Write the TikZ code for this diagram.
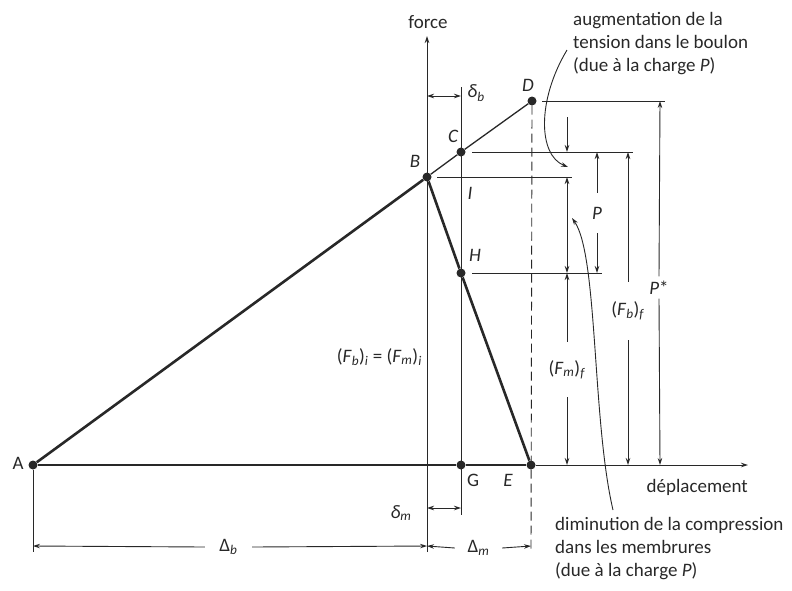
\documentclass[tikz,border=0pt]{standalone}
\usepackage{fontspec}
\setmainfont{Carlito}
\usetikzlibrary{arrows.meta}
\definecolor{ink}{RGB}{40,40,40}
\newcommand\myF[2]{(\textit{F}\textsubscript{\textit{#1}})\textsubscript{\textit{#2}}}
\begin{document}
\begin{tikzpicture}[x=1pt,y=-1pt,>={Stealth[length=7pt,width=4.5pt]},
  pt/.style={circle,fill=ink,inner sep=0pt,minimum size=9pt},
  heavy/.style={draw=ink,line width=2.6pt},
  medium/.style={draw=ink,line width=1.3pt},
  fine/.style={draw=ink,line width=0.9pt},
  lab/.style={font=\fontsize{19}{23}\selectfont\itshape,text=ink,inner sep=1pt},
  up/.style={font=\fontsize{19}{23}\selectfont,text=ink,inner sep=1pt},
  gapv/.style={font=\fontsize{19}{23}\selectfont,text=ink,inner sep=0pt,minimum height=#1},
  gaph/.style={font=\fontsize{19}{23}\selectfont,text=ink,inner sep=0pt,minimum width=#1},
  txt/.style={font=\fontsize{19}{23}\selectfont,text=ink,align=left,inner sep=0pt}]
\useasboundingbox (0,0) rectangle (792,590);

% points
\node[pt] (A) at (33,465) {};
\node[pt] (B) at (427,177) {};
\node[pt] (C) at (461,152) {};
\node[pt] (D) at (532,101) {};
\node[pt] (H) at (461,273) {};
\node[pt] (G) at (461,465) {};
\node[pt] (E) at (531,465) {};

% axes
\coordinate (Ytop) at (427,36);
\coordinate (Ybot) at (427,552);
\coordinate (Xend) at (748,465);
\draw[fine,->] (Ybot) -- (Ytop);
\draw[fine,->] (E) -- (Xend);

% auxiliary verticals
\coordinate (Gtop) at (461,87);
\coordinate (Gbot) at (461,515);
\draw[fine] (Gtop) -- (Gbot);
\coordinate (Ebot) at (531,552);
\draw[fine,dash pattern=on 9pt off 5pt] (D) -- (Ebot);
\coordinate (Abot) at (33,552);
\draw[fine] (A) -- (Abot);

% main lines
\draw[heavy] (A) -- (G) -- (E);
\draw[heavy] (A) -- (B);
\draw[heavy] (B) -- (H) -- (E);
\draw[medium] (B) -- (C) -- (D);

% extension lines
\coordinate (Dl) at (542,101); \coordinate (Dr) at (665,101);
\coordinate (Cl) at (472,152); \coordinate (Cr) at (633,152);
\coordinate (Bl) at (437,177); \coordinate (Br) at (572,177);
\coordinate (Hl) at (472,273); \coordinate (Hr) at (602,273);
\draw[fine] (Dl) -- (Dr);
\draw[fine] (Cl) -- (Cr);
\draw[fine] (Bl) -- (Br);
\draw[fine] (Hl) -- (Hr);

% point labels
\node[up]  (lA) at (18,463) {A};
\node[lab] (lB) at (415,161) {B};
\node[lab] (lC) at (453,136) {C};
\node[lab] (lD) at (528,85) {D};
\node[lab] (lI) at (470,193) {I};
\node[lab] (lH) at (475,255) {H};
\node[up]  (lG) at (473,480) {G};
\node[lab] (lE) at (508,480) {E};

% small horizontal dimensions
\coordinate (db1) at (427,96); \coordinate (db2) at (461,96);
\draw[fine,<->] (db1) -- (db2);
\node[up] (ldb) at (476,93) {\textit{δ}\textsubscript{\textit{b}}};
\coordinate (dm1) at (427,508); \coordinate (dm2) at (461,508);
\draw[fine,<->] (dm1) -- (dm2);
\node[up] (ldm) at (401,513) {\textit{δ}\textsubscript{\textit{m}}};

% bottom dimensions
\node[gaph=47pt] (LDb) at (228.5,547) {Δ\textsubscript{\textit{b}}};
\coordinate (Db1) at (33,546); \coordinate (Db2) at (427,546);
\draw[fine,->] (LDb.west) -- (Db1);
\draw[fine,->] (LDb.east) -- (Db2);
\node[gaph=47pt] (LDm) at (478.5,548) {Δ\textsubscript{\textit{m}}};
\coordinate (Dm1) at (427,546); \coordinate (Dm2) at (531,546);
\draw[fine,->] (LDm.west) -- (Dm1);
\draw[fine,->] (LDm.east) -- (Dm2);

% vertical dimensions
\coordinate (a1) at (567,117); \coordinate (a2) at (567,152);
\draw[fine,->] (a1) -- (a2);
\coordinate (b1) at (567,177); \coordinate (b2) at (567,273);
\draw[fine,<->] (b1) -- (b2);
\node[gapv=55pt] (Fmf) at (567,369.5) {\myF{m}{f}};
\coordinate (f1) at (567,273); \coordinate (f2) at (567,465);
\draw[fine,->] (Fmf.north) -- (f1);
\draw[fine,->] (Fmf.south) -- (f2);

\node[gapv=40pt] (Pl) at (597,213) {\textit{P}};
\coordinate (p1) at (597,152); \coordinate (p2) at (597,273);
\draw[fine,->] (Pl.north) -- (p1);
\draw[fine,->] (Pl.south) -- (p2);

\node[gapv=58pt] (Fbf) at (628,311) {\myF{b}{f}};
\coordinate (q1) at (628,152); \coordinate (q2) at (628,465);
\draw[fine,->] (Fbf.north) -- (q1);
\draw[fine,->] (Fbf.south) -- (q2);

\node[gapv=22pt] (Ps) at (659,287.5) {\textit{P}*};
\coordinate (r1) at (660,101); \coordinate (r2) at (660,465);
\draw[fine,->] (Ps.north) -- (r1);
\draw[fine,->] (Ps.south) -- (r2);

\node[up,anchor=east] (Fi) at (423,357) {\myF{b}{i} = \myF{m}{i}};

% texts
\node[up] (force) at (428,22) {force};
\node[txt,anchor=base east] (depl) at (748,492) {déplacement};
\node[txt,anchor=north west] (aug) at (573,12) {augmentation de la\\tension dans le boulon\\(due à la charge \textit{P})};
\node[txt,anchor=north west] (dim) at (555,517) {diminution de la compression\\dans les membrures\\(due à la charge \textit{P})};

% curved pointers
\coordinate (c1a) at (567,50); \coordinate (c1b) at (568,167);
\draw[fine,->] (c1a) .. controls (537,100) and (538,155) .. (c1b);
\coordinate (c2a) at (613,510); \coordinate (c2b) at (572,218);
\draw[fine,->] (c2a) .. controls (592,420) and (598,255) .. (c2b);
\end{tikzpicture}
\end{document}
